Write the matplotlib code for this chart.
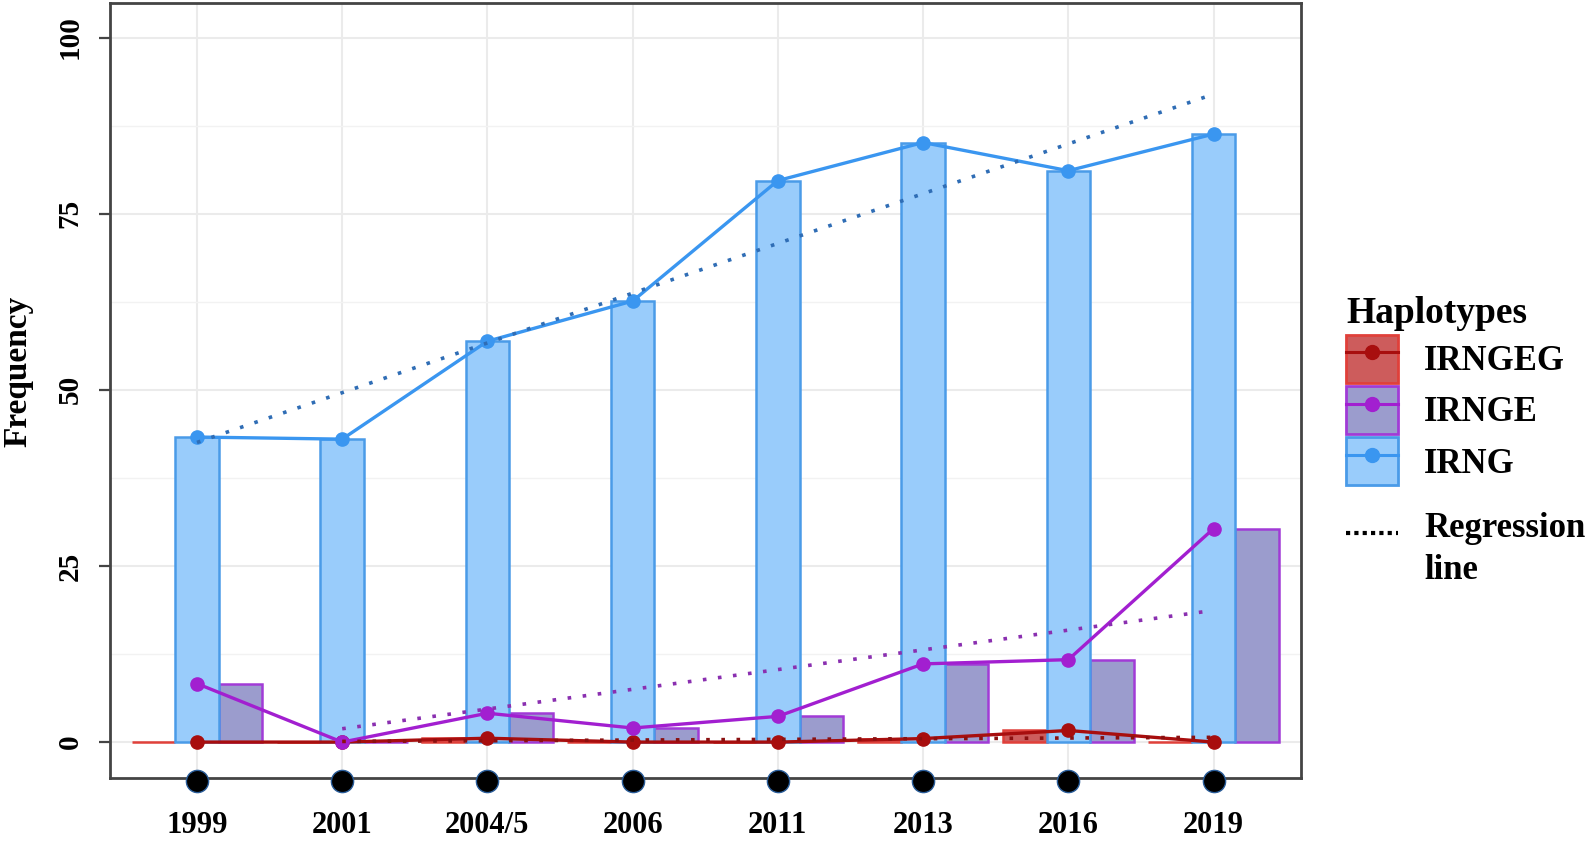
import numpy as np
import matplotlib.pyplot as plt
import matplotlib.transforms as mtransforms
from matplotlib.lines import Line2D
from matplotlib.patches import Patch
from matplotlib.legend_handler import HandlerLine2D

# data
years = ['1999', '2001', '2004/5', '2006', '2011', '2013', '2016', '2019']
irng = [43.3, 43.0, 56.9, 62.6, 79.7, 85.1, 81.1, 86.3]
irnge = [8.3, 0.0, 4.1, 2.0, 3.65, 11.1, 11.7, 30.3]
irngeg = [0.0, 0.0, 0.55, 0.0, 0.0, 0.5, 1.65, 0.0]

plt.rcParams['font.family'] = ['Liberation Serif', 'DejaVu Serif']
plt.rcParams['font.weight'] = 'bold'

x = np.arange(len(years))

# name, values, dodge offset, fill, edge, line colour, regression colour, regression start
series = [
  ('IRNGEG', irngeg, -0.3, '#cd5c5c', '#e0403a', '#a80e0e', '#8b1010', 1),
  ('IRNGE', irnge, 0.3, '#9b9ccd', '#a13bd6', '#a21fd0', '#8a2fb0', 1),
  ('IRNG', irng, 0.0, '#99ccfb', '#4a9be8', '#3a96f0', '#2f6db5', 0),
]

fig = plt.figure(figsize=(15.94, 8.41), dpi=100)
ax = fig.add_axes([0.0689, 0.0753, 0.7471, 0.9211])

# bars
for name, vals, off, fc, ec, lc, rc, start in series:
  ax.bar(x + off, vals, width=0.3, color=fc, edgecolor=ec, linewidth=1.8, zorder=2)

# lines with points
for name, vals, off, fc, ec, lc, rc, start in series:
  ax.plot(x, vals, color=lc, linewidth=2.4, marker='o', markersize=9.5, zorder=4)

# regression lines
for name, vals, off, fc, ec, lc, rc, start in series:
  slope, intercept = np.polyfit(x, vals, 1)
  xr = x[start:]
  ax.plot(xr, slope * xr + intercept, color=rc, linewidth=2.6,
          linestyle=(0, (1, 3.2)), zorder=5)

# black dots under the axis
trans = mtransforms.blended_transform_factory(ax.transData, ax.transAxes)
ax.plot(x, np.full(len(x), -0.004), 'o', color='black', markersize=16,
        markeredgecolor='#2a5d9a', markeredgewidth=1, transform=trans,
        clip_on=False, zorder=6)

ax.set_xlim(-0.6, 7.6)
ax.set_ylim(-5.05, 104.9)
ax.set_xticks(x)
ax.set_xticklabels(years, fontsize=22, fontweight='bold')
ax.set_yticks([0, 25, 50, 75, 100])
ax.set_yticklabels(['0', '25', '50', '75', '100'], fontsize=21, fontweight='bold',
                   rotation=90, va='center')
ax.set_yticks([12.5, 37.5, 62.5, 87.5], minor=True)
ax.tick_params(axis='x', length=0, pad=24)
ax.tick_params(axis='y', which='major', length=8, width=1.6, color='#444444', pad=11)
ax.tick_params(axis='y', which='minor', length=0)

ax.grid(True, which='major', color='#ebebeb', linewidth=1.5, zorder=0)
ax.grid(True, which='minor', axis='y', color='#f2f2f2', linewidth=1.0, zorder=0)
ax.set_axisbelow(True)
for s in ax.spines.values():
  s.set_color('#444444')
  s.set_linewidth(2)

fig.text(0.011, 0.559, 'Frequency', rotation=90, fontsize=24, fontweight='bold',
         ha='center', va='center')

# legend
handles = []
labels = []
for name, vals, off, fc, ec, lc, rc, start in series:
  handles.append((Patch(facecolor=fc, edgecolor=ec, linewidth=2),
                  Line2D([], [], color=lc, linewidth=2.2, marker='o', markersize=10)))
  labels.append(name)

leg = fig.legend(handles, labels, loc='upper left', bbox_to_anchor=(0.8445, 0.648),
                 frameon=False, fontsize=25, title='Haplotypes',
                 title_fontproperties={'size': 27, 'weight': 'bold'},
                 alignment='left', borderpad=0, borderaxespad=0,
                 handlelength=1.5, handleheight=1.75, handletextpad=0.75,
                 labelspacing=0.1)


# dotted key sits on the first text line
class TopLineHandler(HandlerLine2D):
  def create_artists(self, legend, orig_handle, xdescent, ydescent, width, height,
                     fontsize, trans):
    arts = super().create_artists(legend, orig_handle, xdescent, ydescent, width,
                                  height, fontsize, trans)
    for a in arts:
      a.set_ydata(np.asarray(a.get_ydata()) + 0.5 * fontsize)
    return arts


reg_handle = Line2D([], [], color='black', linewidth=3, linestyle=(0, (1, 1)))
leg2 = fig.legend([reg_handle], ['Regression\nline'], loc='upper left',
                  bbox_to_anchor=(0.8445, 0.391), frameon=False, fontsize=25,
                  borderpad=0, borderaxespad=0, handlelength=1.5, handletextpad=0.75,
                  handler_map={Line2D: TopLineHandler()})
leg2.get_texts()[0].set_linespacing(1.35)

fig.savefig('out.png', dpi=100)
